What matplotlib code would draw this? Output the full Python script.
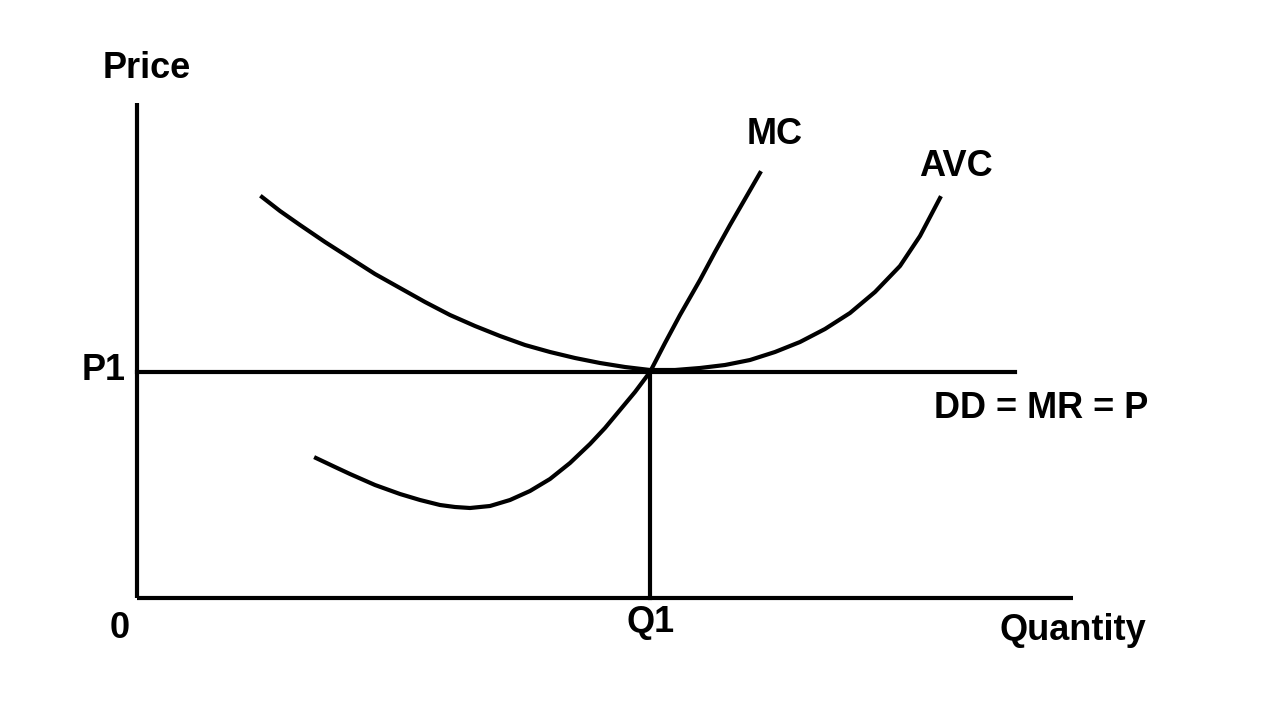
import matplotlib
matplotlib.use("Agg")
import matplotlib.pyplot as plt

# Data in image-like units (x right, y down from top; height 720)
avc_x = [262,280,300,325,350,375,400,425,450,475,500,525,550,575,600,625,650,675,700,725,750,775,800,825,850,875,900,920,940]
avc_y = [197,211,225,242,258,274,288,302,315,326,336,345,352,358,363,367,370,370,368,365,360,352,342,329,313,292,266,236,198]
mc_x = [316,335,350,375,400,420,440,455,470,490,510,530,550,570,590,605,620,635,650,665,680,700,715,730,745,760]
mc_y = [458,467,474,485,494,500,505,507,508,506,500,491,479,463,444,428,410,392,372,343,315,280,252,225,199,173]
p1 = 372
q1 = 650

H = 720
fig = plt.figure(figsize=(12.8, 7.2), dpi=100)
ax = fig.add_axes([0, 0, 1, 1])
ax.set_xlim(0, 1280)
ax.set_ylim(0, H)
ax.axis('off')

lw = 3
k = 'black'
ax.plot([137, 137], [H-103, H-598], color=k, lw=lw, solid_capstyle='butt')
ax.plot([137, 1073], [H-598, H-598], color=k, lw=lw, solid_capstyle='butt')
ax.plot([137, 1015], [H-p1, H-p1], color=k, lw=lw)
ax.plot([q1, q1], [H-p1, H-598], color=k, lw=lw)
ax.plot(avc_x, [H-v for v in avc_y], color=k, lw=lw, solid_joinstyle='round')
ax.plot(mc_x, [H-v for v in mc_y], color=k, lw=lw, solid_joinstyle='round')

fp = dict(family='Liberation Sans', weight='bold', fontsize=26, color=k)
ax.text(147, H-68, 'Price', ha='center', va='center', **fp)
ax.text(104, H-371, 'P1', ha='center', va='center', **fp)
ax.text(120, H-628, '0', ha='center', va='center', **fp)
ax.text(651, H-623, 'Q1', ha='center', va='center', **fp)
ax.text(1073, H-631, 'Quantity', ha='center', va='center', **fp)
ax.text(775, H-134, 'MC', ha='center', va='center', **fp)
ax.text(956, H-167, 'AVC', ha='center', va='center', **fp)
ax.text(1041, H-409, 'DD = MR = P', ha='center', va='center', **fp)

fig.savefig('out.png', dpi=100, facecolor='white')
